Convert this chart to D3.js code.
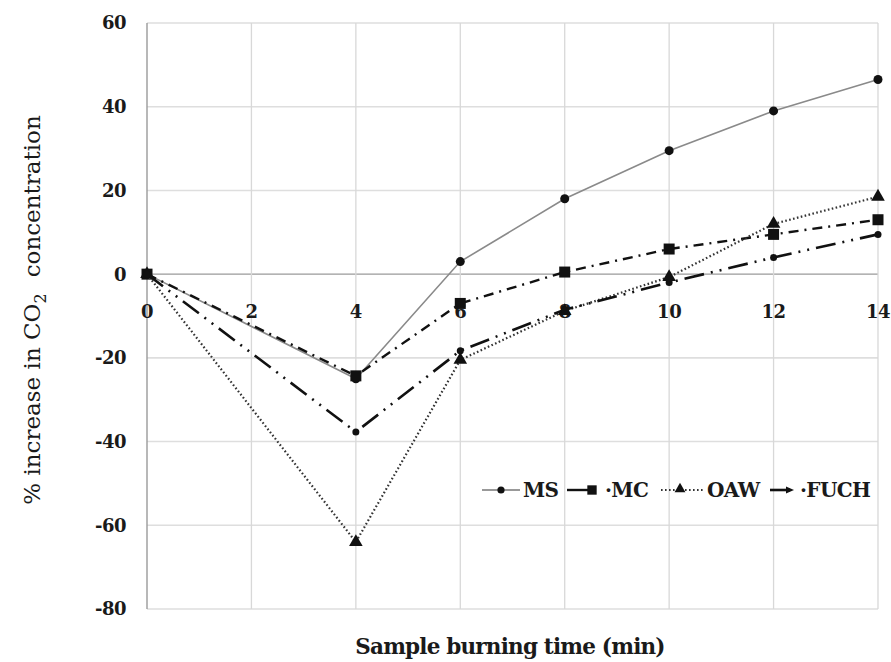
<!DOCTYPE html>
<html><head><meta charset="utf-8">
<script src="https://cdn.jsdelivr.net/npm/d3@7"></script>
<style>body{margin:0;background:#fff}svg{display:block}text{font-family:"DejaVu Serif","Liberation Serif",serif;font-weight:bold;fill:#1a1a1a}</style>
</head><body>
<svg id="c" width="891" height="662"></svg>
<script>
const times = [0, 4, 6, 8, 10, 12, 14];
const MS   = [0, -25, 3, 18, 29.5, 39, 46.5];
const MC   = [0, -24.3, -7, 0.5, 6, 9.5, 13];
const OAW  = [0, -64, -20.5, -8.8, -0.7, 12, 18.5];
const FUCH = [0, -37.7, -18.3, -8.5, -2, 4, 9.5];
const xTicks = [0, 2, 4, 6, 8, 10, 12, 14];
const yTicks = [-80, -60, -40, -20, 0, 20, 40, 60];
const seriesNames = ["MS", "MC", "OAW", "FUCH"];
const legendLabels = ["MS", "·MC", "OAW", "·FUCH"];

const svg = d3.select("#c");
const x = d3.scaleLinear().domain([0, 14]).range([147, 878]);
const y = d3.scaleLinear().domain([-80, 60]).range([609, 23]);

// grid
svg.append("g").selectAll("line").data(yTicks).join("line")
  .attr("x1", x(0)).attr("x2", x(14)).attr("y1", d => y(d)).attr("y2", d => y(d))
  .attr("stroke", d => d === 0 ? "#9a9a9a" : "#dedede").attr("stroke-width", d => d === 0 ? 1.3 : 1.6);
svg.append("g").selectAll("line").data(xTicks).join("line")
  .attr("y1", y(60)).attr("y2", y(-80)).attr("x1", d => x(d)).attr("x2", d => x(d))
  .attr("stroke", d => d === 0 ? "#9a9a9a" : "#d8d8d8").attr("stroke-width", d => d === 0 ? 1.4 : 1.3);

// y tick labels
svg.append("g").selectAll("text").data(yTicks).join("text")
  .attr("x", 126).attr("y", d => y(d)).attr("dy", "0.36em").attr("text-anchor", "end")
  .attr("font-size", 18).attr("letter-spacing", -0.5).text(d => d);
// x tick labels
svg.append("g").selectAll("text").data(xTicks).join("text")
  .attr("x", d => x(d)).attr("y", y(0) + 44).attr("text-anchor", "middle")
  .attr("font-size", 18).attr("letter-spacing", -0.5).text(d => d);

// axis titles
svg.append("text").attr("x", 510).attr("y", 654).attr("text-anchor", "middle")
  .attr("font-size", 21.5).attr("letter-spacing", -0.8).text("Sample burning time (min)");
const yt = svg.append("text").attr("transform", "translate(40,310) rotate(-90)")
  .attr("text-anchor", "middle").attr("font-size", 23).style("font-weight", "normal");
yt.append("tspan").text("% increase in CO");
yt.append("tspan").attr("font-size", 16).attr("dy", 6).text("2");
yt.append("tspan").attr("dy", -6).attr("dx", 16).text("concentration");

const styles = {
  MS:   {data: MS,   stroke: "#8a8a8a", width: 1.6, dash: null,           marker: "circle"},
  MC:   {data: MC,   stroke: "#111",    width: 2.4, dash: "10,6,2,6",     marker: "square"},
  OAW:  {data: OAW,  stroke: "#333",    width: 2.2, dash: "1.6,2.4",      marker: "triangle"},
  FUCH: {data: FUCH, stroke: "#111",    width: 2.6, dash: "20,7,2,7,2,7", marker: "dot"}
};
const line = d3.line().x((d, i) => x(times[i])).y(d => y(d));

function drawMarker(g, type, cx, cy, k) {
  k = k || 1;
  if (type === "circle") g.append("circle").attr("cx", cx).attr("cy", cy).attr("r", 4.5 * k).attr("fill", "#111");
  else if (type === "square") g.append("rect").attr("x", cx - 5.5 * k).attr("y", cy - 5.5 * k).attr("width", 11 * k).attr("height", 11 * k).attr("fill", "#111");
  else if (type === "triangle") g.append("path").attr("d", d3.symbol(d3.symbolTriangle, 80 * k * k)()).attr("transform", `translate(${cx},${cy})`).attr("fill", "#111");
  else g.append("circle").attr("cx", cx).attr("cy", cy).attr("r", 3.5 * k).attr("fill", "#111");
}

seriesNames.forEach(n => {
  const s = styles[n];
  const g = svg.append("g");
  g.append("path").attr("d", line(s.data)).attr("fill", "none").attr("stroke", s.stroke)
    .attr("stroke-width", s.width).attr("stroke-dasharray", s.dash);
  s.data.forEach((v, i) => drawMarker(g, s.marker, x(times[i]), y(v)));
});

// legend
const ly = 490;
const leg = svg.append("g");
// MS
leg.append("line").attr("x1", 482).attr("x2", 520).attr("y1", ly).attr("y2", ly).attr("stroke", "#777").attr("stroke-width", 1.6);
drawMarker(leg, "circle", 501, ly, 0.8);
// MC
leg.append("line").attr("x1", 567).attr("x2", 592).attr("y1", ly).attr("y2", ly).attr("stroke", "#111").attr("stroke-width", 2.4);
drawMarker(leg, "square", 592, ly, 0.85);
// OAW
leg.append("line").attr("x1", 661).attr("x2", 703).attr("y1", ly).attr("y2", ly).attr("stroke", "#333").attr("stroke-width", 2.2).attr("stroke-dasharray", "1.6,2.4");
drawMarker(leg, "triangle", 680, ly - 1, 0.8);
// FUCH
leg.append("line").attr("x1", 770).attr("x2", 790).attr("y1", ly).attr("y2", ly).attr("stroke", "#111").attr("stroke-width", 2.6);
leg.append("path").attr("d", `M786,${ly - 3.5}L794,${ly}L786,${ly + 3.5}Z`).attr("fill", "#111");
const textX = [523, 605, 707, 800];
seriesNames.forEach((n, i) => {
  leg.append("text").attr("x", textX[i]).attr("y", ly).attr("dy", "0.36em")
    .attr("font-size", 20).attr("letter-spacing", -0.6).text(legendLabels[i]);
});
</script>
</body></html>
